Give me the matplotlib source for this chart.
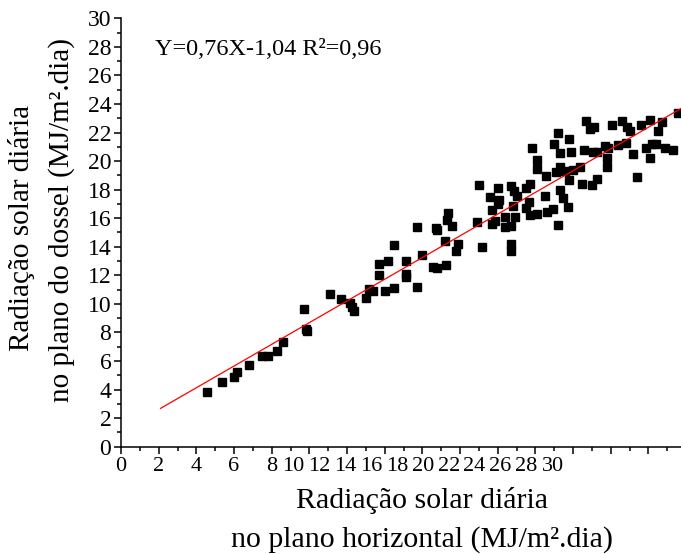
# -*- coding: utf-8 -*-
"""
Radiacao solar diaria: plano do dossel x plano horizontal
Dispersao + reta ajustada Y = 0,76X - 1,04
"""
import numpy as np
import matplotlib
matplotlib.use("Agg")
import matplotlib.pyplot as plt

######################################################################################################
# Dados (MJ/m2.dia)
rad_horizontal = [7.38, 8.18, 8.78, 8.96, 9.60, 10.29, 10.59, 11.08, 11.40, 12.49,
                  12.60, 12.69, 13.90, 14.48, 14.96, 15.06, 15.19, 15.78, 15.99, 16.20,
                  16.50, 16.50, 16.98, 16.82, 17.29, 17.30, 17.92, 17.93, 17.93, 18.49,
                  18.78, 18.50, 19.38, 19.58, 20.04, 19.51, 19.60, 20.00, 20.18, 20.11,
                  20.36, 20.68, 20.59, 21.69, 21.98, 21.78, 22.39, 22.47, 22.63, 22.48,
                  22.79, 22.88, 22.79, 23.19, 23.21, 23.50, 23.51, 23.51, 23.70, 23.50,
                  23.67, 23.81, 23.60, 24.28, 24.51, 24.29, 24.48, 24.49, 24.89, 24.61,
                  24.87, 24.87, 25.30, 25.38, 25.40, 25.72, 25.99, 25.77, 26.09, 26.09,
                  26.28, 25.99, 25.87, 26.11, 26.35, 26.52, 26.61, 26.69, 26.56, 26.80,
                  27.17, 27.28, 27.40, 27.79, 28.09, 27.50, 27.70, 27.90, 27.88, 28.09,
                  28.50, 28.67, 28.59, 28.59, 28.88, 29.18, 29.38, 29.68, 29.80, 29.59,
                  30.00, 30.20, 30.39, 30.68, 30.89, 30.89, 31.01, 31.22, 31.31, 31.51,
                  31.68, 32.08, 32.36]
rad_dossel = [3.81, 4.51, 4.90, 5.20, 5.69, 6.35, 6.37, 6.70, 7.33, 9.62,
              8.21, 8.10, 10.71, 10.32, 10.06, 9.80, 9.50, 10.43, 11.01, 10.90,
              12.79, 12.00, 13.00, 10.87, 14.12, 11.13, 13.00, 12.09, 11.85, 11.20,
              13.42, 15.41, 12.61, 12.49, 12.72, 15.29, 15.18, 14.40, 16.34, 15.84,
              15.43, 14.19, 13.68, 15.70, 14.01, 18.31, 17.51, 15.60, 15.81, 16.54,
              18.12, 17.30, 16.96, 16.11, 15.39, 15.42, 14.19, 13.67, 16.11, 18.29,
              17.94, 17.57, 16.83, 18.12, 18.40, 16.72, 17.12, 16.23, 16.31, 20.90,
              20.08, 19.43, 17.56, 18.98, 16.40, 16.63, 22.00, 21.22, 20.60, 17.98,
              17.42, 15.53, 19.26, 19.61, 19.32, 16.81, 21.53, 20.67, 18.68, 19.41,
              19.61, 18.40, 20.78, 18.31, 18.73, 22.82, 22.26, 22.41, 20.62, 20.67,
              21.04, 20.90, 20.20, 19.61, 22.53, 21.13, 22.83, 22.41, 22.09, 21.30,
              20.52, 18.91, 22.53, 20.90, 22.90, 20.22, 21.20, 21.22, 22.12, 22.74,
              20.90, 20.78, 23.35]

# Reta ajustada
coef_a = 0.76
coef_b = -1.04
reta_x_inicio = 4.9

# Eixo x (rotulos como no original)
x_min = 2.8
x_max = 32.53
xtick_labels = ['0', '2', '4', '6', '8', '10', '12', '14', '16', '18',
                '20', '22', '24', '26', '28', '30']
# posicao dos rotulos em fracao do eixo
xtick_label_pos = [0.0, 0.0673, 0.1345, 0.2018, 0.2691, 0.3077, 0.3539, 0.4002,
                   0.4464, 0.4927, 0.5389, 0.5852, 0.6314, 0.6777, 0.7239, 0.7720]

######################################################################################################
# Figura
plt.rcParams['font.family'] = ['Liberation Serif', 'DejaVu Serif']
plt.rcParams['font.size'] = 17

fig = plt.figure(figsize=(6.81, 5.54), dpi=100)
ax = fig.add_axes([0.1777, 0.1937, 0.8223, 0.7733])

ax.plot(rad_horizontal, rad_dossel, 's', color='black', ms=6.3, mec='black', clip_on=False)

X2 = np.linspace(reta_x_inicio, x_max, 100)
ax.plot(X2, coef_a * X2 + coef_b, color='red', linewidth=0.9)

ax.set_xlim(x_min, x_max)
ax.set_ylim(0, 30)

ax.spines['top'].set_visible(False)
ax.spines['right'].set_visible(False)
ax.spines['left'].set_linewidth(1.1)
ax.spines['bottom'].set_linewidth(1.1)

ax.set_yticks(np.arange(0, 31, 2))
ax.set_yticks(np.arange(0, 31, 1), minor=True)
ax.set_xticks(np.arange(x_min, x_max, 2))
ax.set_xticks(np.arange(x_min + 1, x_max, 2), minor=True)
ax.set_xticklabels([])
ax.tick_params(axis='both', which='major', direction='out', length=5, width=1.1, labelsize=17)
ax.tick_params(axis='both', which='minor', direction='out', length=3, width=1.1)
ax.tick_params(axis='y', pad=2)

for lab, pos in zip(xtick_labels, xtick_label_pos):
    ax.text(pos, -0.047, lab, transform=ax.transAxes, ha='center', va='center', fontsize=16)

ax.text(0.061, 0.926, 'Y=0,76X-1,04 R\u00b2=0,96', transform=ax.transAxes,
        ha='left', va='center', fontsize=17.5)

# Rotulos dos eixos
fig.text(0.620, 1 - 500 / 554, 'Radiação solar diária', ha='center', va='center', fontsize=21.5)
fig.text(0.620, 1 - 540 / 554, 'no plano horizontal (MJ/m\u00b2.dia)', ha='center', va='center', fontsize=21.5)
fig.text(22 / 681, 1 - 228 / 554, 'Radiação solar diária', ha='center', va='center',
         rotation=90, fontsize=21)
fig.text(62 / 681, 1 - 220 / 554, 'no plano do dossel (MJ/m\u00b2.dia)', ha='center', va='center',
         rotation=90, fontsize=21)

fig.savefig('out.png', dpi=100)
